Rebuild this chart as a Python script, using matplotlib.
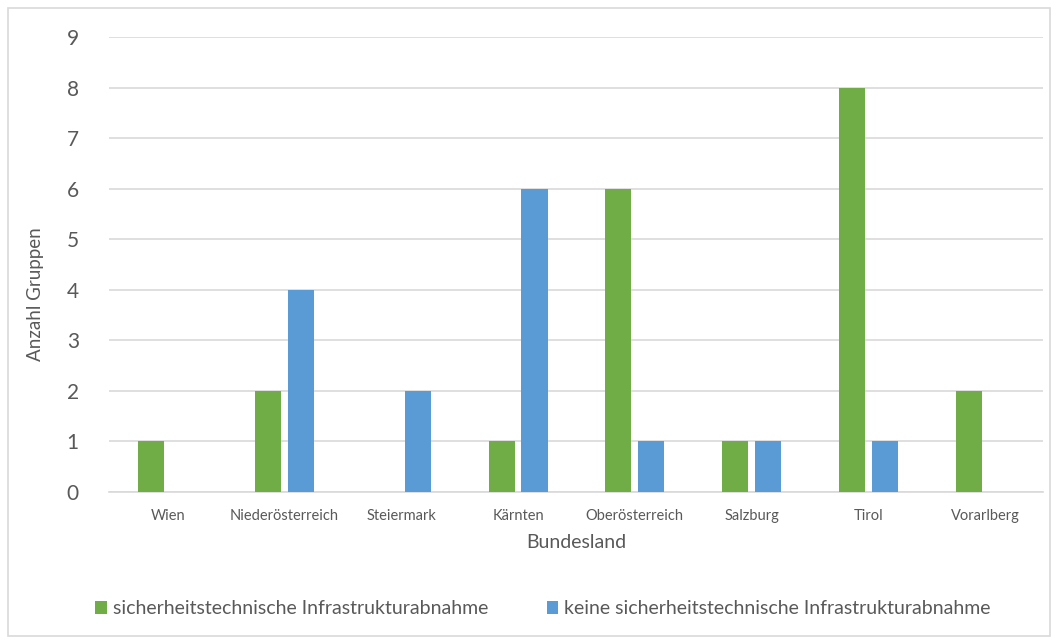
import numpy as np
import matplotlib.pyplot as plt
from matplotlib.patches import Rectangle

# Anzahl Gruppen je Bundesland
bundeslaender = ['Wien', 'Niederösterreich', 'Steiermark', 'Kärnten',
                 'Oberösterreich', 'Salzburg', 'Tirol', 'Vorarlberg']
mit_abnahme = [1, 2, 0, 1, 6, 1, 8, 2]
ohne_abnahme = [0, 4, 2, 6, 1, 1, 1, 0]
y_ticks = list(range(0, 10))

green = '#70AD47'
blue = '#5B9BD5'
text_col = '#595959'
grid_col = '#D9D9D9'

plt.rcParams['font.family'] = ['Lato', 'DejaVu Sans']

fig = plt.figure(figsize=(10.61, 6.44), dpi=100)
fig.patches.append(Rectangle((8 / 1061, 8 / 644), 1042 / 1061, 628 / 644,
                             transform=fig.transFigure, fill=False,
                             edgecolor='#D9D9D9', linewidth=1.2))

ax = fig.add_axes([109.4 / 1061, 1 - 492 / 644, 934 / 1061, 455 / 644])

x = np.arange(len(bundeslaender))
width = 0.223
offset = 0.141
ax.bar(x - offset, mit_abnahme, width, color=green,
       label='sicherheitstechnische Infrastrukturabnahme', zorder=3)
ax.bar(x + offset, ohne_abnahme, width, color=blue,
       label='keine sicherheitstechnische Infrastrukturabnahme', zorder=3)

ax.set_xlim(-0.5, len(bundeslaender) - 0.5)
ax.set_ylim(0, 9)
ax.set_yticks(y_ticks)
ax.set_xticks(x)
ax.set_xticklabels(bundeslaender, fontsize=10.5, color=text_col)
ax.tick_params(axis='y', labelsize=15, colors=text_col, length=0, pad=22)
ax.tick_params(axis='x', length=0, pad=12)
ax.yaxis.grid(True, color=grid_col, linewidth=1.2, zorder=0)
for s in ['top', 'right', 'left']:
    ax.spines[s].set_visible(False)
ax.spines['bottom'].set_color(grid_col)
ax.spines['bottom'].set_linewidth(1.2)

ax.set_xlabel('Bundesland', fontsize=14, color=text_col, labelpad=8)
ax.set_ylabel('Anzahl Gruppen', fontsize=13.5, color=text_col)
ax.yaxis.set_label_coords(-0.07, 0.435)

fig.legend(loc='center', bbox_to_anchor=(543 / 1061, 1 - 609 / 644), ncol=2,
           frameon=False, fontsize=14, labelcolor=text_col,
           handlelength=0.6, handleheight=0.6, handletextpad=0.3,
           columnspacing=3.0)

fig.savefig('out.png', dpi=100)
